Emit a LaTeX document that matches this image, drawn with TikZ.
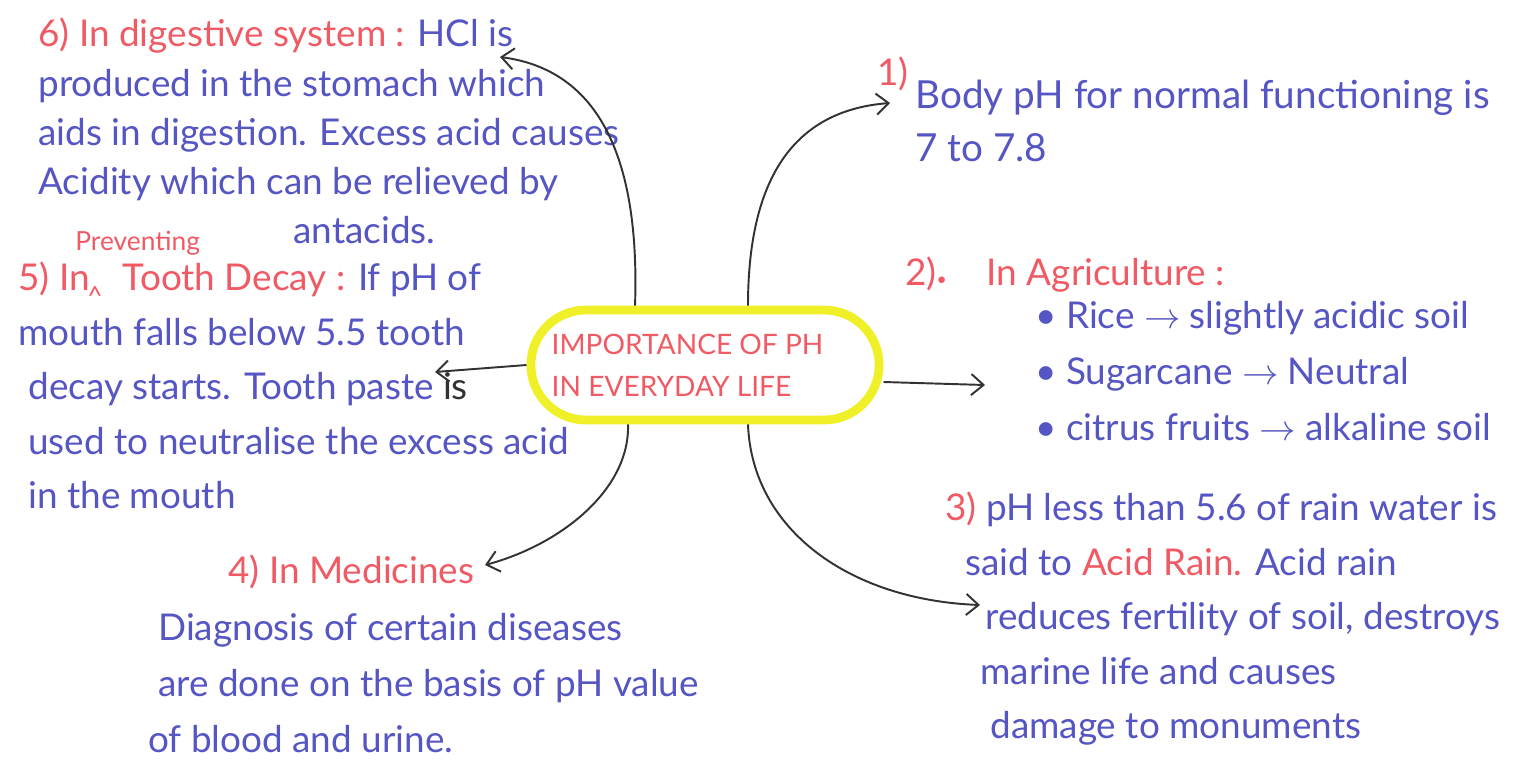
\documentclass[tikz,border=0pt]{standalone}
\usepackage{fontspec}
\setmainfont{Lato}
\usetikzlibrary{shapes.misc,arrows.meta}

\definecolor{inkblue}{RGB}{85,85,195}
\definecolor{inkred}{RGB}{240,90,100}
\definecolor{marker}{RGB}{240,240,40}
\definecolor{pencil}{RGB}{50,50,50}
\newcommand{\hd}[1]{\textcolor{inkred}{#1}}

\tikzset{
	notes/.style={anchor=north west, inner sep=0pt, align=left, text=inkblue,
		font=\fontsize{21}{31}\selectfont},
	tag/.style={anchor=base west, inner sep=0pt, text=inkred,
		font=\fontsize{21}{31}\selectfont},
	hubbox/.style={rounded rectangle, draw=marker, line width=5pt,
		minimum width=7.2cm, minimum height=2.2cm, text=inkred, align=left,
		font=\fontsize{16}{24}\selectfont},
	branch/.style={draw=pencil, line width=1.1pt,
		-{Straight Barb[length=7pt,width=12pt]}}
}

\begin{document}
\begin{tikzpicture}[x=0.02cm, y=-0.02cm]
	\fill[white] (0,0) rectangle (1521,775);
	\useasboundingbox (0,0) rectangle (1521,775);
	% Mitte
	\node[hubbox] (hub) at (705,365) {IMPORTANCE OF PH\hspace*{0.7cm}\\IN EVERYDAY LIFE};
	% Pfeilspitzen
	\coordinate (tip1) at (890,103);
	\coordinate (tip2) at (985,385);
	\coordinate (tip3) at (980,605);
	\coordinate (tip4) at (485,565);
	\coordinate (tip5) at (435,372);
	\coordinate (tip6) at (500,57);
	% 1) Koerper
	\node[tag] (num1) at (877,85) {1)};
	\node[notes, font=\fontsize{22}{30}\selectfont] (body) at (915,80)
		{Body pH for normal functioning is\\ 7 to 7.8};
	% 2) Landwirtschaft
	\node[notes, font=\fontsize{21}{32}\selectfont] (agri) at (905,257)
		{\hd{2)}{\fontsize{10}{10}\selectfont\hd{\textbullet}}\hspace*{0.8cm}\hd{In Agriculture :}\\[-0.28cm]
		\hspace*{2.6cm}\textbullet\ Rice $\rightarrow$ slightly acidic soil\\
		\hspace*{2.6cm}\textbullet\ Sugarcane $\rightarrow$ Neutral\\
		\hspace*{2.6cm}\textbullet\ citrus fruits $\rightarrow$ alkaline soil};
	% 3) Saurer Regen
	\node[notes] (rain) at (945,492)
		{\hd{3)} pH less than 5.6 of rain water is\\
		\hspace*{0.4cm}said to \hd{Acid Rain.} Acid rain\\
		\hspace*{0.8cm}reduces fertility of soil, destroys\\
		\hspace*{0.7cm}marine life and causes\\
		\hspace*{0.9cm}damage to monuments};
	% 4) Medizin
	\node[notes, font=\fontsize{21}{32}\selectfont] (medic) at (148,555)
		{\hspace*{1.6cm}\hd{4) In Medicines}\\
		\hspace*{0.2cm}Diagnosis of certain diseases\\
		\hspace*{0.2cm}are done on the basis of pH value\\
		of blood and urine.};
	% 5) Zaehne
	\node[tag, font=\fontsize{15}{16}\selectfont] (prevent) at (75,250) {Preventing};
	\node[tag, font=\fontsize{15}{16}\selectfont] (caret) at (87,305) {\textasciicircum};
	\node[notes] (tooth) at (18,262)
		{\hd{5) In}\hspace{0.9em}\hd{Tooth Decay :} If pH of\\
		mouth falls below 5.5 tooth\\
		\hspace*{0.2cm}decay starts. Tooth paste \textcolor{pencil}{is}\\
		\hspace*{0.2cm}used to neutralise the excess acid\\
		\hspace*{0.2cm}in the mouth};
	% 6) Verdauung
	\node[notes, font=\fontsize{21}{28}\selectfont] (digest) at (38,18)
		{\hd{6) In digestive system :} HCl is\\
		produced in the stomach which\\
		aids in digestion. Excess acid causes\\
		Acidity which can be relieved by\\
		\hspace*{5.1cm}antacids.};
	% Verbindungen
	\draw[branch] ([xshift=0.86cm]hub.north) .. controls (748,170) and (800,110) .. (tip1);
	\draw[branch] ([yshift=-0.34cm]hub.east) -- (tip2);
	\draw[branch] ([xshift=0.86cm]hub.south) .. controls (752,530) and (850,600) .. (tip3);
	\draw[branch] ([xshift=-1.54cm]hub.south) .. controls (630,490) and (560,545) .. (tip4);
	\draw[branch] (hub.west) -- (tip5);
	\draw[branch] ([xshift=-1.4cm]hub.north) .. controls (640,160) and (600,70) .. (tip6);
\end{tikzpicture}
\end{document}
